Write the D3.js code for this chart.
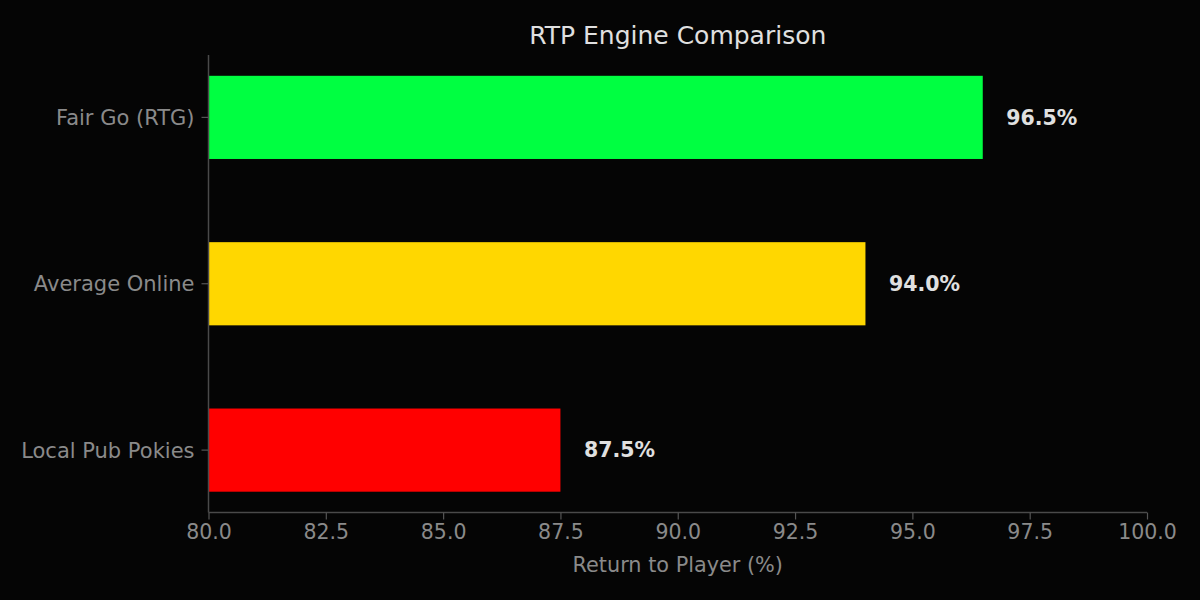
<!DOCTYPE html>
<html>
<head>
<meta charset="utf-8">
<script src="https://cdn.jsdelivr.net/npm/d3@7"></script>
<style>
  html, body { margin: 0; padding: 0; background: #050505; }
  svg { display: block; font-family: "DejaVu Sans", sans-serif; }
</style>
</head>
<body>
<svg></svg>
<script>
var categories = ["Fair Go (RTG)", "Average Online", "Local Pub Pokies"];
var rtpValues = [96.5, 94.0, 87.5];
var barColors = ["#00ff41", "#ffd700", "#ff0000"];
var xTicks = [80, 82.5, 85, 87.5, 90, 92.5, 95, 97.5, 100];

var width = 1200,
    height = 600;
var plotLeft = 208.5, plotRight = 1147, plotTop = 55, plotBottom = 512.5;

var svg = d3.select("svg")
    .attr("width", width)
    .attr("height", height);

svg.append("rect")
    .attr("width", width)
    .attr("height", height)
    .attr("fill", "#050505");

var x = d3.scaleLinear()
    .domain([80, 100])
    .range([plotLeft, plotRight]);

var y = d3.scaleBand()
    .domain(categories)
    .range([plotTop, plotBottom])
    .paddingInner(0.5)
    .paddingOuter(0.125);

var data = categories.map((c, i) => ({ name: c, value: rtpValues[i], color: barColors[i] }));

// bars
svg.selectAll("rect.bar")
    .data(data)
    .enter().append("rect")
    .attr("class", "bar")
    .attr("x", x(80))
    .attr("y", d => y(d.name))
    .attr("width", d => x(d.value) - x(80))
    .attr("height", y.bandwidth())
    .attr("fill", d => d.color);

// value labels
svg.selectAll("text.val")
    .data(data)
    .enter().append("text")
    .attr("class", "val")
    .attr("x", d => x(d.value + 0.5))
    .attr("y", d => y(d.name) + y.bandwidth() / 2)
    .attr("dy", "0.36em")
    .attr("fill", "#e0e0e0")
    .attr("font-size", 20.5)
    .attr("font-weight", "bold")
    .text(d => d.value.toFixed(1) + "%");

// axes
var gx = svg.append("g")
    .attr("transform", "translate(0," + plotBottom + ")")
    .call(d3.axisBottom(x).tickValues(xTicks).tickFormat(d3.format(".1f")).tickSize(7).tickPadding(5));

var gy = svg.append("g")
    .attr("transform", "translate(" + plotLeft + ",0)")
    .call(d3.axisLeft(y).tickSize(7).tickPadding(7));

[gx, gy].forEach(function (g) {
    g.select(".domain").attr("stroke", "#4a4a4a").attr("stroke-width", 1.5);
    g.selectAll(".tick line").attr("stroke", "#555").attr("stroke-width", 1.2);
    g.selectAll(".tick text")
        .attr("fill", "#8a8a8a")
        .attr("font-family", "DejaVu Sans, sans-serif");
});
gx.selectAll(".tick text").attr("font-size", 20.5);
gy.selectAll(".tick text").attr("font-size", 21).attr("dy", "0.36em");

// spines without outer tick stubs
gy.select(".domain").attr("d", "M0," + plotTop + "V" + plotBottom);
gx.select(".domain").attr("d", "M" + plotLeft + ",0H" + plotRight);

// title
svg.append("text")
    .attr("x", (plotLeft + plotRight) / 2)
    .attr("y", 43.5)
    .attr("text-anchor", "middle")
    .attr("fill", "#e0e0e0")
    .attr("font-size", 25)
    .text("RTP Engine Comparison");

// x label
svg.append("text")
    .attr("x", (plotLeft + plotRight) / 2)
    .attr("y", 572)
    .attr("text-anchor", "middle")
    .attr("fill", "#8a8a8a")
    .attr("font-size", 20.8)
    .text("Return to Player (%)");
</script>
</body>
</html>
